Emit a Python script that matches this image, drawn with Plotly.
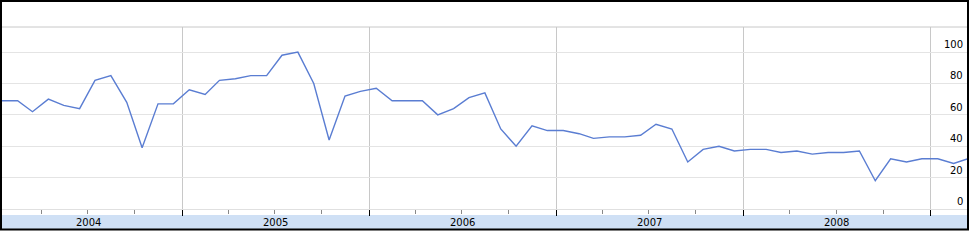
import plotly.graph_objects as go

# ---- data (monthly, Jan 2004 .. Mar 2009) ----
years = [2004, 2005, 2006, 2007, 2008, 2009]
values = [
    69, 69, 62, 70, 66, 64, 82, 85, 68, 39, 67, 67,      # 2004
    76, 73, 82, 83, 85, 85, 98, 100, 80, 44, 72, 75,     # 2005
    77, 69, 69, 69, 60, 64, 71, 74, 51, 40, 53, 50,      # 2006
    50, 48, 45, 46, 46, 47, 54, 51, 30, 38, 40, 37,      # 2007
    38, 38, 36, 37, 35, 36, 36, 37, 18, 32, 30, 32,      # 2008
    32, 29, 32,                                          # 2009
]
months = [f"{y}-{m:02d}-15" for y in years for m in range(1, 13)][:len(values)]
year_labels = ["2004", "2005", "2006", "2007", "2008"]
y_ticks = [0, 20, 40, 60, 80, 100]

W, H = 969, 249
L, R, T, B = 2, 1, 27, 40
PW, PH = W - L - R, H - T - B

def px(x):
    return (x - L) / PW

def py(y):
    return (H - B - y) / PH

fig = go.Figure()
fig.add_trace(go.Scatter(
    x=months, y=values, mode="lines",
    line=dict(color="#5a7dd2", width=1.4),
    hoverinfo="x+y", showlegend=False,
))

shapes = [
    # light blue band under the axis
    dict(type="rect", xref="paper", yref="paper", x0=px(2), x1=px(968), y0=py(230), y1=py(215),
         fillcolor="#cfe0f5", line=dict(width=0), layer="below"),
    # top gray line of the plot area
    dict(type="line", xref="paper", yref="paper", x0=0, x1=1, y0=1, y1=1,
         line=dict(color="#c8c8c8", width=1)),
    # black frame
    dict(type="rect", xref="paper", yref="paper", x0=px(1), x1=px(968), y0=py(229.5), y1=py(1),
         line=dict(color="#000000", width=2), fillcolor="rgba(0,0,0,0)"),
]

annotations = []
for yl in year_labels:
    annotations.append(dict(
        x=f"{yl}-07-02", y=py(222.5), xref="x", yref="paper",
        text=yl, showarrow=False, xanchor="center", yanchor="middle",
        font=dict(family="DejaVu Sans", size=10, color="#000000"),
    ))
for v in y_ticks:
    annotations.append(dict(
        x=1, y=v, xref="paper", yref="y", text=str(v), showarrow=False,
        xanchor="right", yanchor="bottom", xshift=-3, yshift=0,
        font=dict(family="DejaVu Sans", size=10, color="#000000"),
    ))

fig.update_layout(
    width=W, height=H,
    margin=dict(l=L, r=R, t=T, b=B, pad=0),
    paper_bgcolor="#ffffff", plot_bgcolor="#ffffff",
    shapes=shapes, annotations=annotations,
    xaxis=dict(
        type="date", range=["2004-01-15 12:00", "2009-03-15"],
        tick0="2004-01-01", dtick="M12",
        ticks="outside", ticklen=6, tickcolor="#000000", tickwidth=1,
        showticklabels=False, showgrid=True, gridcolor="#c8c8c8", gridwidth=1,
        showline=True, linecolor="#e0e0e0", linewidth=1,
        zeroline=False, fixedrange=True,
        minor=dict(tick0="2004-01-01", dtick="M3", ticks="outside", ticklen=4,
                   tickcolor="#888888", tickwidth=1, showgrid=False),
    ),
    yaxis=dict(
        range=[0, 116], tickvals=y_ticks, showticklabels=False,
        showgrid=True, gridcolor="#e4e4e4", gridwidth=1,
        zeroline=False, showline=False, fixedrange=True,
    ),
)

fig.write_html("out.html")
